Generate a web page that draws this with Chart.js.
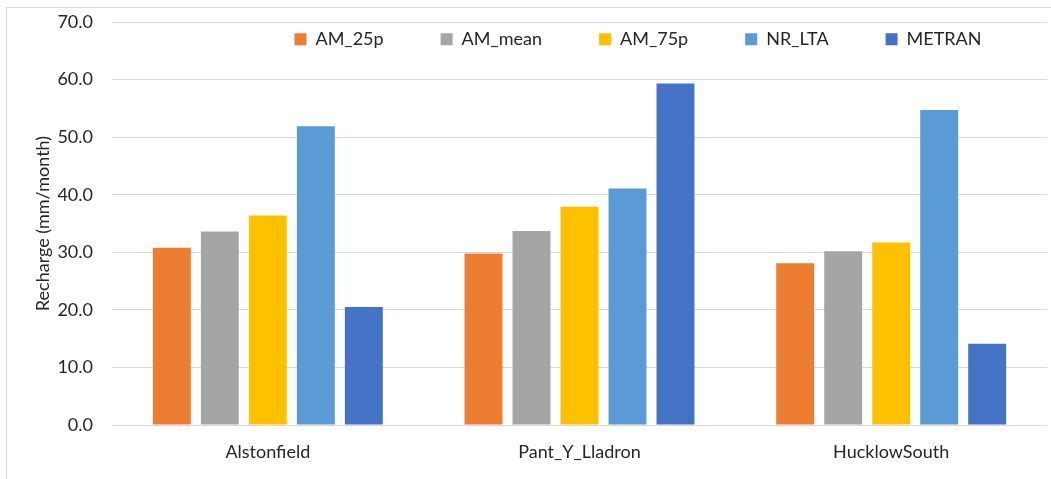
<!DOCTYPE html>
<html>
<head>
<meta charset="utf-8">
<script src="https://cdn.jsdelivr.net/npm/chart.js@4/dist/chart.umd.min.js"></script>
<style>
  body { margin: 0; background: #fff; overflow: hidden; }
  #frame { position: absolute; left: 6px; top: 7px; width: 1200px; height: 600px; border: 1px solid #d9d9d9; }
  #wrap { position: absolute; left: 0; top: 0; width: 1051px; height: 479px; }
</style>
</head>
<body>
<div id="frame"></div>
<div id="wrap"><canvas id="chart"></canvas></div>
<script>
// Chart data
const sites = ['Alstonfield', 'Pant_Y_Lladron', 'HucklowSouth'];
const am25p = [30.8, 29.8, 28.1];
const amMean = [33.6, 33.7, 30.2];
const am75p = [36.4, 37.9, 31.7];
const nrLta = [51.9, 41.1, 54.7];
const metran = [20.5, 59.3, 14.1];
const yTicks = [0, 10, 20, 30, 40, 50, 60, 70];

const FONT = { family: 'Lato, "Open Sans", sans-serif', size: 18 };
const TEXT = '#262626';
const GRID = '#d9d9d9';

// Excel puts the legend inside the plot area, so move it there after layout
const legendInPlot = {
    id: 'legendInPlot',
    beforeLayout(chart) {
        if (chart.legend) chart.legend.isHorizontal = () => true;
    },
    afterLayout(chart) {
        const lg = chart.legend;
        const pad = lg.options.labels.padding;
        const itemH = FONT.size * 1.2;
        lg.left = 638 - 500;
        lg.right = 638 + 500;
        lg.top = 41 - pad - itemH / 2;
        lg.bottom = lg.top + lg.height;
    }
};

const makeSet = (label, data, color) => ({
    label: label,
    data: data,
    backgroundColor: color,
    borderWidth: 0,
    barPercentage: 0.79,
    categoryPercentage: 0.77
});

new Chart(document.getElementById('chart'), {
    type: 'bar',
    data: {
        labels: sites,
        datasets: [
            makeSet('AM_25p', am25p, '#ED7D31'),
            makeSet('AM_mean', amMean, '#A5A5A5'),
            makeSet('AM_75p', am75p, '#FFC000'),
            makeSet('NR_LTA', nrLta, '#5B9BD5'),
            makeSet('METRAN', metran, '#4472C4')
        ]
    },
    options: {
        responsive: true,
        maintainAspectRatio: false,
        animation: false,
        layout: { padding: { left: 32, top: 22, right: 4, bottom: 16 } },
        plugins: {
            legend: {
                position: 'chartArea',
                align: 'center',
                labels: {
                    boxWidth: 12,
                    boxHeight: 12,
                    padding: 57,
                    color: TEXT,
                    font: FONT
                }
            },
            tooltip: { enabled: false }
        },
        scales: {
            x: {
                afterFit(scale) { scale.height = 38; },
                grid: { display: false, drawTicks: false },
                border: { display: false },
                ticks: { color: TEXT, font: FONT, padding: 16 }
            },
            y: {
                min: 0,
                max: 70,
                afterFit(scale) {
                    scale.width = 80;
                    scale.paddingTop = 0;
                    scale.paddingBottom = 0;
                },
                afterBuildTicks(scale) { scale.ticks = yTicks.map(v => ({ value: v })); },
                grid: { color: GRID, lineWidth: 1, drawTicks: false },
                border: { display: false },
                ticks: {
                    color: TEXT,
                    font: FONT,
                    padding: 19,
                    callback: v => v.toFixed(1)
                },
                title: {
                    display: true,
                    text: 'Recharge (mm/month)',
                    color: TEXT,
                    font: FONT,
                    padding: 0
                }
            }
        }
    },
    plugins: [legendInPlot]
});
</script>
</body>
</html>
